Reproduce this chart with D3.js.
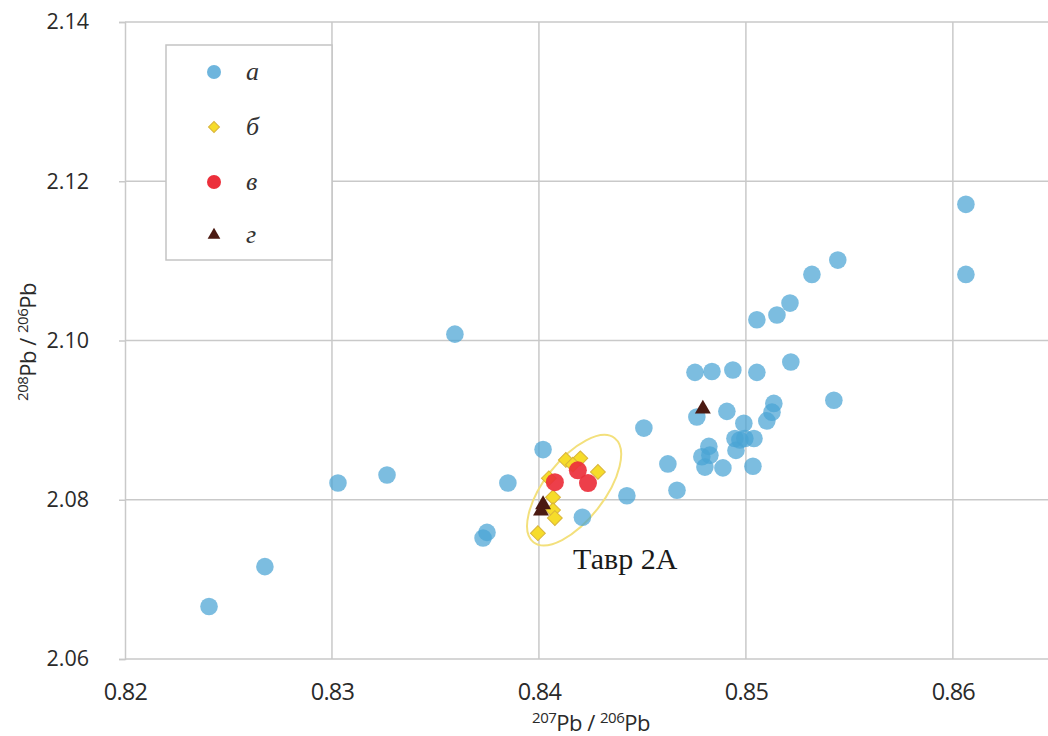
<!DOCTYPE html>
<html><head><meta charset="utf-8">
<script src="https://cdn.jsdelivr.net/npm/d3@7"></script>
<style>body{margin:0;background:#fff}svg{display:block}</style>
</head><body>
<svg id="c" width="1048" height="736"></svg>
<script>
// Series a (blue circles)
const seriesA = [
  [0.82406,2.0666],[0.82676,2.0716],[0.83029,2.0821],[0.83266,2.0831],[0.83594,2.1008],
  [0.8373,2.0752],[0.83749,2.0759],[0.8385,2.0821],[0.8402,2.0863],[0.8421,2.0778],
  [0.84425,2.0805],[0.84507,2.0890],[0.84623,2.0845],[0.84667,2.0812],[0.84754,2.0960],
  [0.84836,2.0961],[0.84937,2.0963],[0.85053,2.0960],[0.85217,2.0973],[0.85053,2.1026],
  [0.8515,2.1032],[0.85213,2.1047],[0.85319,2.1083],[0.85444,2.1101],[0.86063,2.1171],
  [0.86063,2.1083],[0.85425,2.0925],[0.84763,2.0904],[0.84908,2.0911],[0.85135,2.0921],
  [0.85126,2.0910],[0.85101,2.0899],[0.8499,2.0896],[0.84947,2.0877],[0.84971,2.0875],
  [0.84995,2.0877],[0.85039,2.0877],[0.84952,2.0862],[0.84821,2.0867],[0.84787,2.0854],
  [0.84826,2.0856],[0.84802,2.0841],[0.84889,2.0840],[0.85034,2.0842]
];
// Series б (yellow diamonds)
const seriesB = [
  [0.8413,2.0850],[0.8420,2.0852],[0.84164,2.0844],[0.84285,2.0835],[0.84048,2.0827],
  [0.84068,2.0803],[0.84068,2.0787],[0.84077,2.0777],[0.83995,2.0758]
];
// Series в (red circles)
const seriesC = [[0.84077,2.0822],[0.84188,2.0837],[0.84237,2.0821]];
// Series г (dark triangles)
const seriesD = [[0.8402,2.0794],[0.8401,2.0786],[0.84792,2.0914]];

const legendLabels = ["а","б","в","г"];
const xTicks = [0.82,0.83,0.84,0.85,0.86];
const yTicks = [2.06,2.08,2.10,2.12,2.14];
const ellipseCenter = [0.8417,2.0812];
const annotation = {text:"Тавр 2А", x:0.84165, y:2.0713};

const svg = d3.select("#c");
const x = d3.scaleLinear().domain([0.82,0.8645]).range([125,1046]);
const y = d3.scaleLinear().domain([2.06,2.14]).range([659,22]);

const grid = "#c9c9c9";
// gridlines
svg.append("g").selectAll("line").data(xTicks.slice(1)).join("line")
  .attr("x1",d=>x(d)).attr("x2",d=>x(d)).attr("y1",y(2.14)).attr("y2",y(2.06))
  .attr("stroke",grid).attr("stroke-width",1.5);
svg.append("g").selectAll("line").data(yTicks).join("line")
  .attr("x1",x(0.82)).attr("x2",1048).attr("y1",d=>y(d)).attr("y2",d=>y(d))
  .attr("stroke",grid).attr("stroke-width",1.5);
// left axis
const yAxis = svg.append("g").attr("transform",`translate(${x(0.82)},0)`)
  .call(d3.axisLeft(y).tickValues(yTicks).tickFormat(d3.format(".2f")).tickSize(6).tickPadding(30));
yAxis.select(".domain").attr("stroke",grid).attr("stroke-width",1.5);
yAxis.selectAll(".tick line").attr("stroke",grid).attr("stroke-width",1.5);
yAxis.selectAll("text").attr("font-family","Open Sans").attr("font-size",21.5).attr("fill","#2a2a2a");
// bottom axis labels
const xAxis = svg.append("g").attr("transform",`translate(0,${y(2.06)})`)
  .call(d3.axisBottom(x).tickValues(xTicks).tickFormat(d3.format(".2f")).tickSize(0).tickPadding(24));
xAxis.select(".domain").remove();
xAxis.selectAll("text").attr("font-family","Open Sans").attr("font-size",23.5).attr("fill","#2a2a2a")
  .attr("letter-spacing",-0.8);

// axis titles
function pbTitle(sel, a, b){
  sel.append("tspan").attr("font-size",15).attr("dy",-8).text(a);
  sel.append("tspan").attr("dy",8).text("Pb / ");
  sel.append("tspan").attr("font-size",15).attr("dy",-8).text(b);
  sel.append("tspan").attr("dy",8).text("Pb");
}
const xt = svg.append("text").attr("x",591).attr("y",731).attr("text-anchor","middle")
  .attr("font-family","Open Sans").attr("font-size",22).attr("fill","#2a2a2a").attr("letter-spacing",-0.5);
pbTitle(xt,"207","206");
const yt = svg.append("text").attr("transform","translate(36,342) rotate(-90)").attr("text-anchor","middle")
  .attr("font-family","Open Sans").attr("font-size",22).attr("fill","#2a2a2a").attr("letter-spacing",-0.5);
pbTitle(yt,"208","206");

// ellipse
const ec = [x(ellipseCenter[0]), y(ellipseCenter[1])];
svg.append("ellipse").attr("cx",ec[0]).attr("cy",ec[1]).attr("rx",66).attr("ry",30)
  .attr("transform",`rotate(-52 ${ec[0]} ${ec[1]})`)
  .attr("fill","none").attr("stroke","#f3e07c").attr("stroke-width",2);

// series a
svg.append("g").selectAll("circle").data(seriesA).join("circle")
  .attr("cx",d=>x(d[0])).attr("cy",d=>y(d[1])).attr("r",8.8)
  .attr("fill","#4aa3d4").attr("fill-opacity",0.72);
// series б diamonds
svg.append("g").selectAll("path").data(seriesB).join("path")
  .attr("d",d3.symbol().type(d3.symbolSquare).size(110))
  .attr("transform",d=>`translate(${x(d[0])},${y(d[1])}) rotate(45)`)
  .attr("fill","#f6dc2a").attr("stroke","#d9b43a").attr("stroke-width",1);
// series в
svg.append("g").selectAll("circle").data(seriesC).join("circle")
  .attr("cx",d=>x(d[0])).attr("cy",d=>y(d[1])).attr("r",9)
  .attr("fill","#ec2f3b").attr("fill-opacity",0.92);
// series г
svg.append("g").selectAll("path").data(seriesD).join("path")
  .attr("d",d3.symbol().type(d3.symbolTriangle).size(110))
  .attr("transform",d=>`translate(${x(d[0])},${y(d[1])})`)
  .attr("fill","#4b1a12");

// annotation
svg.append("text").attr("x",x(annotation.x)).attr("y",y(annotation.y))
  .attr("font-family","Liberation Serif").attr("font-size",30).attr("fill","#1a1a1a")
  .text(annotation.text);

// legend
const lg = svg.append("g");
lg.append("rect").attr("x",166).attr("y",45).attr("width",166).attr("height",215)
  .attr("fill","#fff").attr("stroke","#c4c4c4").attr("stroke-width",1.5);
const rows = [72,127,182,235];
legendLabels.forEach((t,i)=>{
  const g = lg.append("g").attr("transform",`translate(214,${rows[i]})`);
  if(i===0) g.append("circle").attr("r",7).attr("fill","#4aa3d4").attr("fill-opacity",0.8);
  if(i===1) g.append("path").attr("d",d3.symbol().type(d3.symbolSquare).size(60)).attr("transform","rotate(45)")
      .attr("fill","#f6dc2a").attr("stroke","#d9b43a");
  if(i===2) g.append("circle").attr("r",7).attr("fill","#ec2f3b");
  if(i===3) g.append("path").attr("d",d3.symbol().type(d3.symbolTriangle).size(70)).attr("fill","#4b1a12");
  lg.append("text").attr("x",246).attr("y",rows[i]+8).attr("font-family","Liberation Serif")
    .attr("font-style","italic").attr("font-size",26).attr("fill","#333").text(t);
});
</script>
</body></html>
